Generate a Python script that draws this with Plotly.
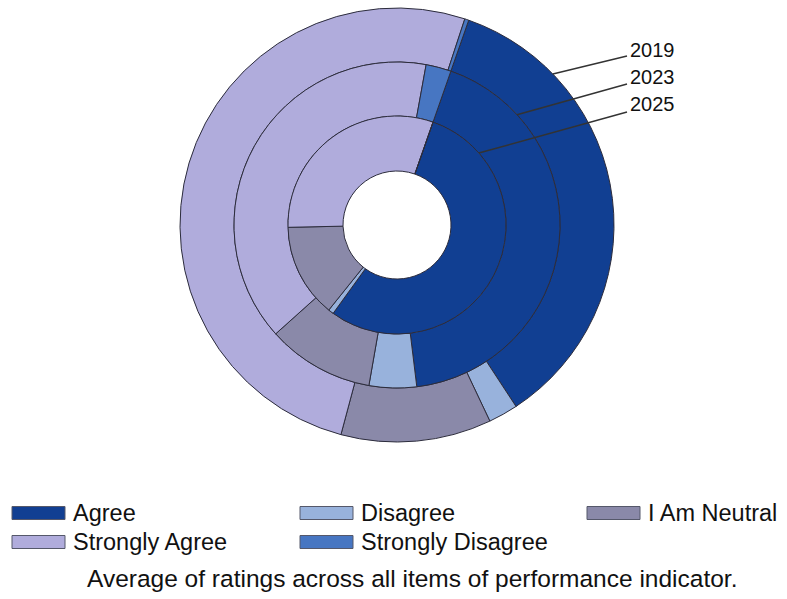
import math
import plotly.graph_objects as go

# Survey response shares (%) per year, one ring per year
categories = ["Agree", "Disagree", "I Am Neutral", "Strongly Agree", "Strongly Disagree"]
years = ["2019", "2023", "2025"]
shares_2019 = [35.4, 2.2, 11.2, 50.9, 0.3]
shares_2023 = [42.7, 4.7, 10.6, 39.5, 2.5]
shares_2025 = [54.6, 0.8, 13.9, 30.7, 0.0]
caption = "Average of ratings across all items of performance indicator."

colors = ["#113f92", "#98b2dc", "#8a89a9", "#b0acdc", "#4776c2"]
outline = "#2c2c3c"

W, H = 787, 599
CX, CY = 397, 225          # ring centre in pixels
R_HOLE = 54
RADII = [217, 163, 109]    # outer edge of the 2019, 2023, 2025 rings
ROTATION = 19.3
FONT = "Liberation Sans, Arial"


def px_x(x):
    return x / W


def px_y(y):
    return 1 - y / H


fig = go.Figure()

ring_values = [shares_2019, shares_2023, shares_2025]
inner_edges = [RADII[1], RADII[2], R_HOLE]
for year, vals, r_out, r_in in zip(years, ring_values, RADII, inner_edges):
    fig.add_trace(go.Pie(
        labels=categories,
        values=vals,
        name=year,
        sort=False,
        direction="clockwise",
        rotation=ROTATION,
        hole=r_in / r_out,
        textinfo="none",
        hoverinfo="label+value+name",
        marker=dict(colors=colors, line=dict(color=outline, width=1)),
        domain=dict(x=[px_x(CX - r_out), px_x(CX + r_out)],
                    y=[px_y(CY + r_out), px_y(CY - r_out)]),
        showlegend=False,
    ))

shapes = []
annotations = []

# Year labels with leader lines running from each ring's outer edge
leader_angles = [45.9, 47.4, 48.7]
label_y = [50, 77, 104]
line_end_y = [56, 84, 112]
for year, r, ang, ty, ey in zip(years, RADII, leader_angles, label_y, line_end_y):
    a = math.radians(ang)
    sx = CX + r * math.sin(a)
    sy = CY - r * math.cos(a)
    shapes.append(dict(type="line", xref="paper", yref="paper",
                       x0=px_x(sx), y0=px_y(sy), x1=px_x(627), y1=px_y(ey),
                       line=dict(color="#333333", width=1.5), layer="above"))
    annotations.append(dict(text=year, xref="paper", yref="paper",
                            x=px_x(628), y=px_y(ty), xanchor="left", yanchor="middle",
                            showarrow=False,
                            font=dict(family=FONT, size=20, color="#111111")))

# Legend: three columns, filled row by row
col_x = [12, 300, 587]
row_y = [513, 542]
sw_w, sw_h = 53, 13
for i, (cat, col) in enumerate(zip(categories, colors)):
    x0 = col_x[i % 3]
    yc = row_y[i // 3]
    shapes.append(dict(type="rect", xref="paper", yref="paper",
                       x0=px_x(x0), x1=px_x(x0 + sw_w),
                       y0=px_y(yc + sw_h / 2), y1=px_y(yc - sw_h / 2),
                       fillcolor=col, line=dict(color="#55586a", width=1)))
    annotations.append(dict(text=cat, xref="paper", yref="paper",
                            x=px_x(x0 + sw_w + 6), y=px_y(yc), xanchor="left", yanchor="middle",
                            showarrow=False,
                            font=dict(family=FONT, size=23.5, color="#111111")))

annotations.append(dict(text=caption, xref="paper", yref="paper",
                        x=px_x(412), y=px_y(578), xanchor="center", yanchor="middle",
                        showarrow=False,
                        font=dict(family=FONT, size=24.5, color="#111111")))

fig.update_layout(
    width=W, height=H,
    margin=dict(l=0, r=0, t=0, b=0),
    paper_bgcolor="white",
    plot_bgcolor="white",
    shapes=shapes,
    annotations=annotations,
)

fig.write_html("out.html")
